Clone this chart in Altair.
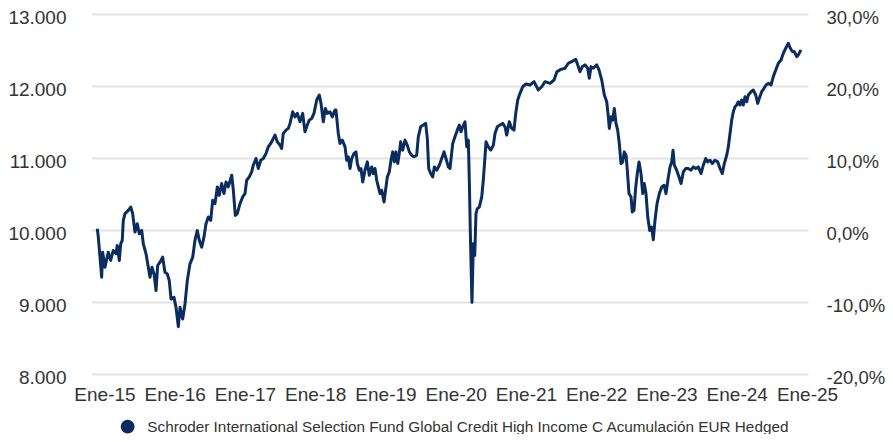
import altair as alt
import pandas as pd

NAVY = "#0b2c5e"
TEXT = "#333333"
FONT = "Liberation Sans, Arial, sans-serif"

series_name = "Schroder International Selection Fund Global Credit High Income C Acumulación EUR Hedged"
base_value = 10000
left_ticks = [8000, 9000, 10000, 11000, 12000, 13000]
right_ticks = [-0.2, -0.1, 0.0, 0.1, 0.2, 0.3]
year_ticks = list(range(2015, 2026))

# time as decimal years
years = [
    2014.898, 2014.912, 2014.960, 2014.974, 2015.007, 2015.054, 2015.088, 2015.125, 2015.164, 2015.182,
    2015.211, 2015.231, 2015.253, 2015.268, 2015.292, 2015.339, 2015.373, 2015.401, 2015.434, 2015.467,
    2015.495, 2015.530, 2015.552, 2015.591, 2015.624, 2015.648, 2015.676, 2015.705, 2015.733, 2015.757,
    2015.790, 2015.828, 2015.861, 2015.894, 2015.922, 2015.947, 2015.989, 2016.018, 2016.051, 2016.075,
    2016.113, 2016.146, 2016.179, 2016.217, 2016.256, 2016.288, 2016.321, 2016.350, 2016.384, 2016.416,
    2016.445, 2016.478, 2016.512, 2016.540, 2016.573, 2016.606, 2016.634, 2016.668, 2016.701, 2016.730,
    2016.762, 2016.811, 2016.834, 2016.862, 2016.890, 2016.929, 2016.967, 2017.000, 2017.024, 2017.061,
    2017.095, 2017.118, 2017.157, 2017.189, 2017.224, 2017.261, 2017.299, 2017.332, 2017.366, 2017.403,
    2017.427, 2017.460, 2017.498, 2017.522, 2017.545, 2017.584, 2017.616, 2017.641, 2017.679, 2017.712,
    2017.745, 2017.783, 2017.821, 2017.854, 2017.878, 2017.915, 2017.950, 2017.982, 2018.021, 2018.058,
    2018.082, 2018.115, 2018.143, 2018.172, 2018.210, 2018.243, 2018.281,
    2018.295, 2018.328, 2018.352, 2018.385, 2018.424, 2018.448, 2018.470, 2018.495, 2018.519, 2018.552,
    2018.580, 2018.599, 2018.627, 2018.651, 2018.676, 2018.708, 2018.741, 2018.769, 2018.804, 2018.826,
    2018.851, 2018.875, 2018.898, 2018.922, 2018.946, 2018.979, 2019.007, 2019.026, 2019.054, 2019.078,
    2019.103, 2019.125, 2019.150, 2019.174, 2019.196, 2019.216, 2019.245, 2019.278, 2019.310, 2019.339,
    2019.373, 2019.406, 2019.444, 2019.467, 2019.501, 2019.538, 2019.572, 2019.595, 2019.615, 2019.643,
    2019.672, 2019.695, 2019.729, 2019.766, 2019.800, 2019.833, 2019.861, 2019.894, 2019.918, 2019.957,
    2019.989, 2020.022, 2020.051, 2020.075, 2020.099, 2020.132, 2020.156, 2020.179, 2020.193, 2020.207,
    2020.221, 2020.231, 2020.250, 2020.270, 2020.288, 2020.307, 2020.335, 2020.370, 2020.392, 2020.416,
    2020.431, 2020.463, 2020.498, 2020.535, 2020.559, 2020.592, 2020.630, 2020.668, 2020.701, 2020.725,
    2020.762, 2020.797, 2020.829, 2020.854, 2020.882, 2020.915, 2020.953, 2021.000, 2021.057, 2021.114,
    2021.175, 2021.224, 2021.271, 2021.342, 2021.399, 2021.441, 2021.498,
    2021.555, 2021.602, 2021.651, 2021.708, 2021.745, 2021.769, 2021.801, 2021.840, 2021.878, 2021.901,
    2021.925, 2021.958, 2022.006, 2022.039, 2022.078, 2022.115, 2022.149, 2022.172, 2022.186, 2022.210,
    2022.234, 2022.257, 2022.281, 2022.305, 2022.328, 2022.352, 2022.377, 2022.399, 2022.424, 2022.442,
    2022.466, 2022.495, 2022.513, 2022.537, 2022.562, 2022.584, 2022.609, 2022.637, 2022.661, 2022.684,
    2022.708, 2022.733, 2022.761, 2022.789, 2022.812, 2022.836, 2022.865, 2022.898, 2022.932, 2022.965,
    2022.993, 2023.026, 2023.050, 2023.074, 2023.093, 2023.111, 2023.145, 2023.178, 2023.207, 2023.239,
    2023.273, 2023.310, 2023.349, 2023.382, 2023.416, 2023.453, 2023.491, 2023.524, 2023.558, 2023.587,
    2023.619, 2023.652, 2023.690, 2023.729, 2023.762, 2023.794, 2023.823, 2023.857, 2023.880, 2023.904,
    2023.928, 2023.951, 2023.975, 2023.999, 2024.022, 2024.046, 2024.071, 2024.093, 2024.118, 2024.142,
    2024.165, 2024.203, 2024.236, 2024.270, 2024.298, 2024.321, 2024.355, 2024.388, 2024.417, 2024.449,
    2024.488, 2024.520, 2024.555, 2024.592, 2024.630, 2024.663, 2024.697, 2024.734, 2024.762, 2024.791,
    2024.819, 2024.854, 2024.876, 2024.915,
]

values = [
    10018, 9901, 9344, 9692, 9483, 9692, 9577, 9716, 9670, 9786,
    9577, 9809, 9855, 10134, 10227, 10273, 10319, 10227, 9971, 10088,
    9948, 9994, 9809, 9670, 9483, 9344, 9483, 9391, 9159, 9507,
    9553, 9623, 9414, 9391, 9298, 9043, 9066, 8926, 8657, 8926,
    8765, 8973, 9298, 9530, 9623, 9855, 9994, 9855, 9762, 9901,
    10088, 10180, 10134, 10412, 10366, 10598, 10482, 10645, 10506, 10668,
    10598, 10760, 10552, 10203, 10227, 10366, 10459, 10506, 10691, 10737,
    10807, 10900, 10993, 10854, 10969, 10993, 11063, 11155, 11202, 11272,
    11318, 11225, 11178, 11132, 11341, 11387, 11411, 11480, 11642, 11572,
    11620, 11503, 11620, 11364, 11433, 11526, 11550, 11620, 11805, 11875,
    11759, 11503, 11689, 11620, 11642, 11572, 11666,
    11666, 11341, 11202, 11248, 11155, 10969, 11016, 10854, 10993, 11063,
    11085, 10923, 10830, 10854, 10667, 10830, 10946, 10760, 10876, 10784,
    10854, 10691, 10598, 10506, 10552, 10389, 10598, 10737, 10807, 10969,
    11085, 10946, 11085, 10923, 11063, 11225, 11109, 11248, 11178, 11085,
    11039, 11016, 11039, 11294, 11433, 11457, 11480, 11272, 10854, 10784,
    10737, 10876, 10830, 10900, 10993, 11085, 10993, 10876, 10854, 11202,
    11294, 11387, 11457, 11364, 11433, 11503, 11155, 11248, 10691, 9994,
    9391, 8995, 9809, 9646, 10227, 10296, 10319, 10459, 10691, 11016,
    11225, 11155, 11109, 11178, 11341, 11433, 11457, 11480, 11433, 11318,
    11503, 11411, 11387, 11620, 11805, 11898, 11990, 12028, 12014, 12060,
    11944, 11990, 12060, 12037, 12083, 12200, 12230,
    12247, 12316, 12339, 12372, 12269, 12199, 12269, 12293, 12247, 12107,
    12269, 12247, 12293, 12223, 12083, 11875, 11781, 11572, 11411, 11572,
    11526, 11689, 11480, 11387, 11202, 10923, 10946, 11085, 11039, 10830,
    10506, 10459, 10250, 10273, 10598, 10784, 10946, 10784, 10506, 10645,
    10506, 10180, 9994, 10041, 9865, 10134, 10366, 10506, 10598, 10622,
    10506, 10737, 10876, 10946, 11109, 10900, 10830, 10737, 10645, 10807,
    10854, 10854, 10830, 10876, 10854, 10876, 10784, 10900, 10993, 10946,
    10969, 10923, 10969, 10946, 10854, 10784, 10923, 11039, 11155, 11341,
    11526, 11642, 11712, 11736, 11781, 11736, 11805, 11736, 11851, 11781,
    11875, 11921, 11944, 11875, 11759, 11829, 11921, 11968, 12014, 12037,
    12014, 12130, 12223, 12316, 12362, 12455, 12525, 12594, 12525, 12478,
    12478, 12408, 12432, 12501,
]

df = pd.DataFrame({"t": years, "v": values, "s": series_name})
df["pct"] = df["v"] / base_value - 1

x_enc = alt.X(
    "t:Q",
    scale=alt.Scale(domain=[2014.808, 2025.014], nice=False, zero=False),
    axis=alt.Axis(
        values=year_ticks,
        labelExpr="'Ene-' + substring(toString(datum.value), 2)",
        grid=False, domain=False, ticks=False, title=None,
        labelFont=FONT, labelFontSize=19, labelColor=TEXT,
        labelPadding=11, labelOverlap=False, labelFlush=False,
    ),
)

line = alt.Chart(df).mark_line(strokeWidth=3, strokeJoin="round").encode(
    x=x_enc,
    y=alt.Y(
        "v:Q",
        scale=alt.Scale(domain=[8000, 13000], nice=False, zero=False),
        axis=alt.Axis(
            values=left_ticks,
            labelExpr="replace(format(datum.value, ',.0f'), ',', '.')",
            grid=True, gridColor="#e3e3e3", gridWidth=2,
            domain=False, ticks=False, title=None,
            labelFont=FONT, labelFontSize=19, labelColor=TEXT,
            labelPadding=25, labelFlush=False, labelOffset=3,
        ),
    ),
    color=alt.Color(
        "s:N",
        scale=alt.Scale(range=[NAVY]),
        legend=alt.Legend(
            title=None, orient="none", legendX=29, legendY=405,
            symbolType="circle", symbolSize=190,
            symbolFillColor=NAVY, symbolStrokeColor=NAVY, symbolStrokeWidth=0,
            symbolOpacity=1,
            labelFont=FONT, labelFontSize=15.3, labelColor=TEXT,
            labelOffset=12, padding=0, labelLimit=900,
        ),
    ),
)

right = alt.Chart(df).mark_line(strokeOpacity=0).encode(
    x=x_enc,
    y=alt.Y(
        "pct:Q",
        scale=alt.Scale(domain=[-0.2, 0.3], nice=False, zero=False),
        axis=alt.Axis(
            orient="right",
            values=right_ticks,
            labelExpr="(datum.value < -0.0001 ? '-' : '') + replace(format(abs(datum.value * 100), '.1f'), '.', ',') + '%'",
            grid=False, domain=False, ticks=False, title=None,
            labelFont=FONT, labelFontSize=18.5, labelColor=TEXT,
            labelPadding=18, labelFlush=False, labelOffset=3,
        ),
    ),
)

chart = (
    alt.layer(line, right)
    .resolve_scale(y="independent")
    .properties(
        width=717, height=360,
        autosize=alt.AutoSizeParams(type="none"),
        padding={"left": 83, "top": 6, "right": 77, "bottom": 60},
        background="white",
    )
    .configure_view(stroke=None)
)

chart.save("out.html", embed_options={"renderer": "svg", "actions": False})
